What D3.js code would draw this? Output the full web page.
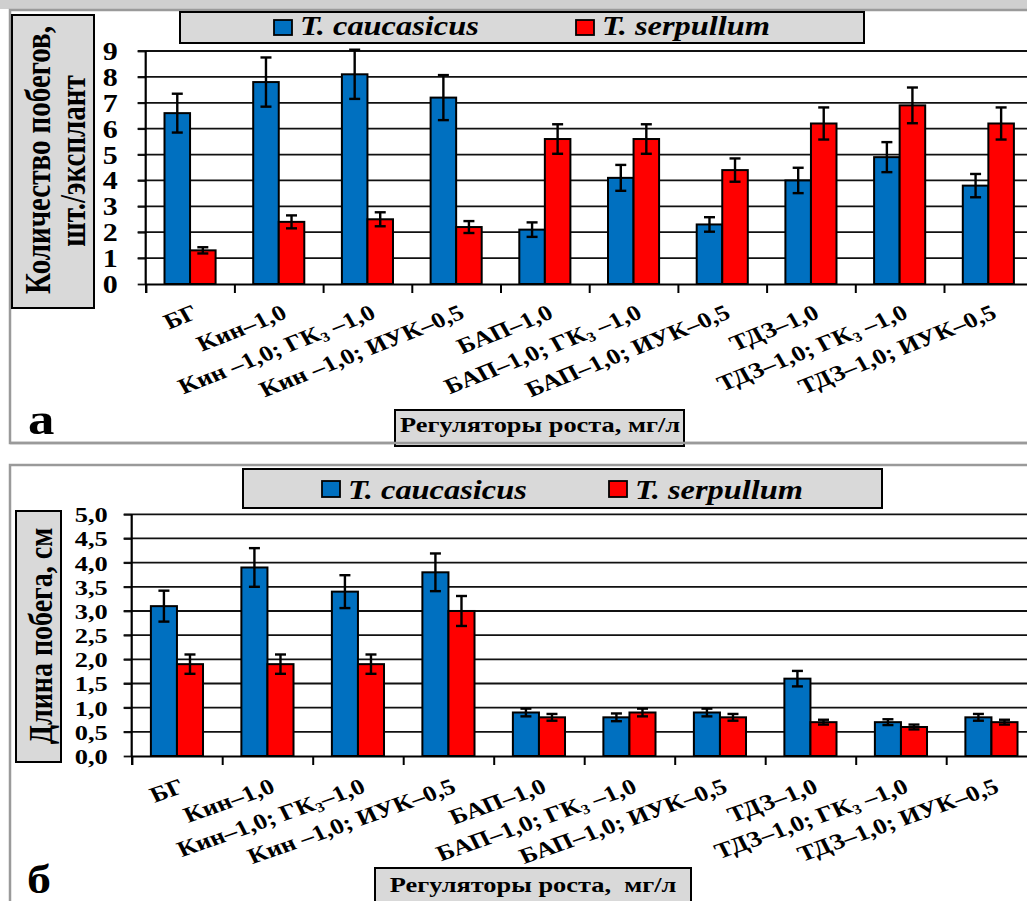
<!DOCTYPE html>
<html><head><meta charset="utf-8">
<script src="https://cdn.jsdelivr.net/npm/d3@7"></script>
<style>
body{margin:0;background:#fff;overflow:hidden} svg{display:block}
svg text{font-family:"Liberation Serif","Times New Roman",Times,serif !important;font-weight:bold}
</style>
</head><body>
<svg id="c" width="1027" height="901"></svg>
<script>
// ---------------- DATA ----------------
const seriesNames = ["T. caucasicus", "T. serpullum"];
const seriesColors = ["#0070C0", "#FF0000"];

const categoriesA = ["БГ", "Кин–1,0", "Кин –1,0; ГК₃ –1,0", "Кин –1,0; ИУК–0,5", "БАП–1,0",
  "БАП–1,0; ГК₃ –1,0", "БАП–1,0; ИУК–0,5", "ТДЗ–1,0", "ТДЗ–1,0; ГК₃ –1,0", "ТДЗ–1,0; ИУК–0,5"];
const categoriesB = ["БГ", "Кин–1,0", "Кин–1,0; ГК₃–1,0", "Кин –1,0; ИУК–0,5", "БАП–1,0",
  "БАП–1,0; ГК₃ –1,0", "БАП–1,0; ИУК–0,5", "ТДЗ–1,0", "ТДЗ–1,0; ГК₃ –1,0", "ТДЗ–1,0; ИУК–0,5"];

const shootsCaucasicus    = [6.6, 7.8, 8.1, 7.2, 2.1, 4.1, 2.3, 4.0, 4.9, 3.8];
const shootsCaucasicusErr = [0.75, 0.95, 0.95, 0.87, 0.28, 0.5, 0.28, 0.49, 0.58, 0.45];
const shootsSerpullum     = [1.3, 2.4, 2.5, 2.2, 5.6, 5.6, 4.4, 6.2, 6.9, 6.2];
const shootsSerpullumErr  = [0.12, 0.25, 0.27, 0.23, 0.57, 0.57, 0.45, 0.62, 0.69, 0.62];

const lengthCaucasicus    = [3.1, 3.9, 3.4, 3.8, 0.9, 0.8, 0.9, 1.6, 0.7, 0.8];
const lengthCaucasicusErr = [0.32, 0.4, 0.34, 0.39, 0.08, 0.08, 0.08, 0.16, 0.06, 0.07];
const lengthSerpullum     = [1.9, 1.9, 1.9, 3.0, 0.8, 0.9, 0.8, 0.7, 0.6, 0.7];
const lengthSerpullumErr  = [0.2, 0.2, 0.2, 0.31, 0.07, 0.08, 0.07, 0.05, 0.05, 0.05];

const ticksA = [0, 1, 2, 3, 4, 5, 6, 7, 8, 9];
const ticksB = [0, 0.5, 1, 1.5, 2, 2.5, 3, 3.5, 4, 4.5, 5];

const yTitleA = ["Количество побегов,", "шт./эксплант"];
const yTitleB = "Длина побега, см";
const xTitleA = "Регуляторы роста, мг/л";
const xTitleB = "Регуляторы роста,\u00A0 мг/л";
const panelLetters = ["а", "б"];

// ---------------- DRAWING ----------------
const S = 1.2; // horizontal stretch of the original picture
const svg = d3.select("#c");

function txt(g, x, y, str, o) {
  const t = g.append("text")
    .attr("transform", `translate(${x},${y}) scale(${S},1)` + (o.rot ? ` rotate(${o.rot})` : ""))
    .style("font-style", o.italic ? "italic" : "normal")
    .attr("font-size", o.size)
    .attr("text-anchor", o.anchor || "start")
    .attr("fill", "#000");
  if (o.dy) t.attr("dy", o.dy);
  const parts = String(str).split("₃");
  parts.forEach((p, i) => {
    if (i > 0) {
      t.append("tspan").attr("font-size", o.size * 0.62).attr("dy", o.size * 0.16).text("3");
      t.append("tspan").attr("dy", -o.size * 0.16).text(p);
    } else {
      t.append("tspan").text(p);
    }
  });
  return t;
}

function box(g, x, y, w, h, sw) {
  return g.append("rect").attr("x", x).attr("y", y).attr("width", w).attr("height", h)
    .attr("fill", "#D9D9D9").attr("stroke", "#000").attr("stroke-width", sw || 2);
}

function chart(g, cfg) {
  const x1 = cfg.x0 + cfg.categories.length * cfg.cw;
  const x = d3.scaleBand().domain(cfg.categories).range([cfg.x0, x1]).padding(0);
  const y = d3.scaleLinear().domain([0, d3.max(cfg.ticks)]).range([cfg.axisY, cfg.topY]);
  const bw = x.bandwidth() * 0.288;

  // gridlines
  g.append("g").selectAll("line").data(cfg.ticks.slice(1)).join("line")
    .attr("x1", cfg.x0 - 8).attr("x2", x1)
    .attr("y1", d => y(d)).attr("y2", d => y(d))
    .attr("stroke", "#111").attr("stroke-width", 1.8);

  // bars
  cfg.series.forEach((vals, si) => {
    g.append("g").selectAll("rect").data(vals).join("rect")
      .attr("x", (d, i) => x(cfg.categories[i]) + x.bandwidth() / 2 - bw + si * bw)
      .attr("y", d => y(d))
      .attr("width", bw)
      .attr("height", d => cfg.axisY - y(d))
      .attr("fill", seriesColors[si])
      .attr("stroke", "#000").attr("stroke-width", 2);
  });

  // y axis (library axis for ticks + labels)
  const ya = g.append("g").attr("transform", `translate(${cfg.x0},0)`)
    .call(d3.axisLeft(y).tickValues(cfg.ticks).tickSize(8).tickPadding(cfg.tickPad).tickFormat(cfg.fmt));
  ya.select(".domain").remove();
  ya.selectAll(".tick line").attr("stroke", "#111").attr("stroke-width", 1.8);
  ya.selectAll(".tick text").each(function () {
    const el = d3.select(this);
    const xx = +el.attr("x");
    el.attr("x", null).attr("dy", null)
      .attr("transform", `translate(${xx},${cfg.tickDy}) scale(${S},1)`)
      .attr("font-size", cfg.tickSize).attr("fill", "#000");
  });
  g.append("line").attr("x1", cfg.x0).attr("x2", cfg.x0)
    .attr("y1", cfg.topY).attr("y2", cfg.axisY)
    .attr("stroke", "#000").attr("stroke-width", 2.2);

  // x axis with ticks at category boundaries
  const xb = d3.scaleLinear().domain([0, cfg.categories.length]).range([cfg.x0, x1]);
  const xa = g.append("g").attr("transform", `translate(0,${cfg.axisY})`)
    .call(d3.axisBottom(xb).tickValues(d3.range(cfg.categories.length + 1)).tickSize(9).tickFormat(""));
  xa.select(".domain").attr("stroke", "#000").attr("stroke-width", 2.2);
  xa.selectAll(".tick line").attr("stroke", "#000").attr("stroke-width", 2);

  // error bars
  cfg.series.forEach((vals, si) => {
    const errs = cfg.errors[si];
    const eg = g.append("g").attr("stroke", "#000").attr("stroke-width", 2.4);
    vals.forEach((v, i) => {
      const cx = x(cfg.categories[i]) + x.bandwidth() / 2 - bw / 2 + si * bw;
      const hi = y(v + errs[i]), lo = y(v - errs[i]);
      eg.append("line").attr("x1", cx).attr("x2", cx).attr("y1", hi).attr("y2", lo);
      eg.append("line").attr("x1", cx - 5.5).attr("x2", cx + 5.5).attr("y1", hi).attr("y2", hi);
      eg.append("line").attr("x1", cx - 5.5).attr("x2", cx + 5.5).attr("y1", lo).attr("y2", lo);
    });
  });

  // category labels
  cfg.categories.forEach(c => {
    txt(g, x(c) + x.bandwidth() / 2 + cfg.labDx, cfg.axisY + cfg.labDy, c,
      { size: cfg.labSize, anchor: "end", rot: cfg.labRot, dy: "0.68em" });
  });
}

// top band
svg.append("rect").attr("x", 0).attr("y", 0).attr("width", 1027).attr("height", 9).attr("fill", "#cfcfcf");

// ---------- Panel a ----------
const gA = svg.append("g");
gA.append("rect").attr("x", 10).attr("y", 10).attr("width", 1030).attr("height", 433)
  .attr("fill", "#fff").attr("stroke", "#9a9a9a").attr("stroke-width", 2.5);

chart(gA, {
  categories: categoriesA,
  series: [shootsCaucasicus, shootsSerpullum],
  errors: [shootsCaucasicusErr, shootsSerpullumErr],
  ticks: ticksA, fmt: d3.format("d"),
  x0: 145.7, cw: 88.7, axisY: 284, topY: 51,
  tickPad: 20, tickSize: 25, tickDy: 8.5,
  labSize: 22, labDx: 2, labDy: 20, labRot: -25.5
});

// legend a
box(gA, 180, 12, 684, 31);
gA.append("rect").attr("x", 274).attr("y", 20).attr("width", 18).attr("height", 15)
  .attr("fill", seriesColors[0]).attr("stroke", "#000").attr("stroke-width", 1.8);
txt(gA, 300, 35, seriesNames[0], { size: 27, italic: true });
gA.append("rect").attr("x", 576).attr("y", 20).attr("width", 18).attr("height", 15)
  .attr("fill", seriesColors[1]).attr("stroke", "#000").attr("stroke-width", 1.8);
txt(gA, 602, 35, seriesNames[1], { size: 27, italic: true });

// y title a
box(gA, 12, 15, 82, 293);
txt(gA, 50, 160, yTitleA[0], { size: 29, anchor: "middle", rot: -90 });
txt(gA, 85, 161, yTitleA[1], { size: 29, anchor: "middle", rot: -90 });

// x title a
box(gA, 395, 410, 289, 36);
txt(gA, 540, 432, xTitleA, { size: 22, anchor: "middle" });
gA.append("line").attr("x1", 10).attr("x2", 1027).attr("y1", 443).attr("y2", 443)
  .attr("stroke", "#9a9a9a").attr("stroke-width", 2.5);
txt(gA, 28, 434, panelLetters[0], { size: 44 });

// ---------- Panel б ----------
const gB = svg.append("g");
gB.append("rect").attr("x", 10).attr("y", 465).attr("width", 1030).attr("height", 460)
  .attr("fill", "#fff").attr("stroke", "#9a9a9a").attr("stroke-width", 2.5);

chart(gB, {
  categories: categoriesB,
  series: [lengthCaucasicus, lengthSerpullum],
  errors: [lengthCaucasicusErr, lengthSerpullumErr],
  ticks: ticksB, fmt: d => d3.format(".1f")(d).replace(".", ","),
  x0: 131.7, cw: 90.5, axisY: 756, topY: 514.3,
  tickPad: 16, tickSize: 22, tickDy: 7.5,
  labSize: 22, labDx: 2, labDy: 22, labRot: -23
});

box(gB, 243, 469, 639, 39);
gB.append("rect").attr("x", 322).attr("y", 481).attr("width", 18).attr("height", 16)
  .attr("fill", seriesColors[0]).attr("stroke", "#000").attr("stroke-width", 1.8);
txt(gB, 348, 499, seriesNames[0], { size: 27, italic: true });
gB.append("rect").attr("x", 609).attr("y", 481).attr("width", 18).attr("height", 16)
  .attr("fill", seriesColors[1]).attr("stroke", "#000").attr("stroke-width", 1.8);
txt(gB, 635, 499, seriesNames[1], { size: 27, italic: true });

box(gB, 16, 511, 45, 251);
txt(gB, 52, 636, yTitleB, { size: 28, anchor: "middle", rot: -90 });

box(gB, 375, 868, 316, 40);
txt(gB, 533, 892, xTitleB, { size: 22, anchor: "middle" });
txt(gB, 27, 893, panelLetters[1], { size: 40 });
</script>
</body></html>
